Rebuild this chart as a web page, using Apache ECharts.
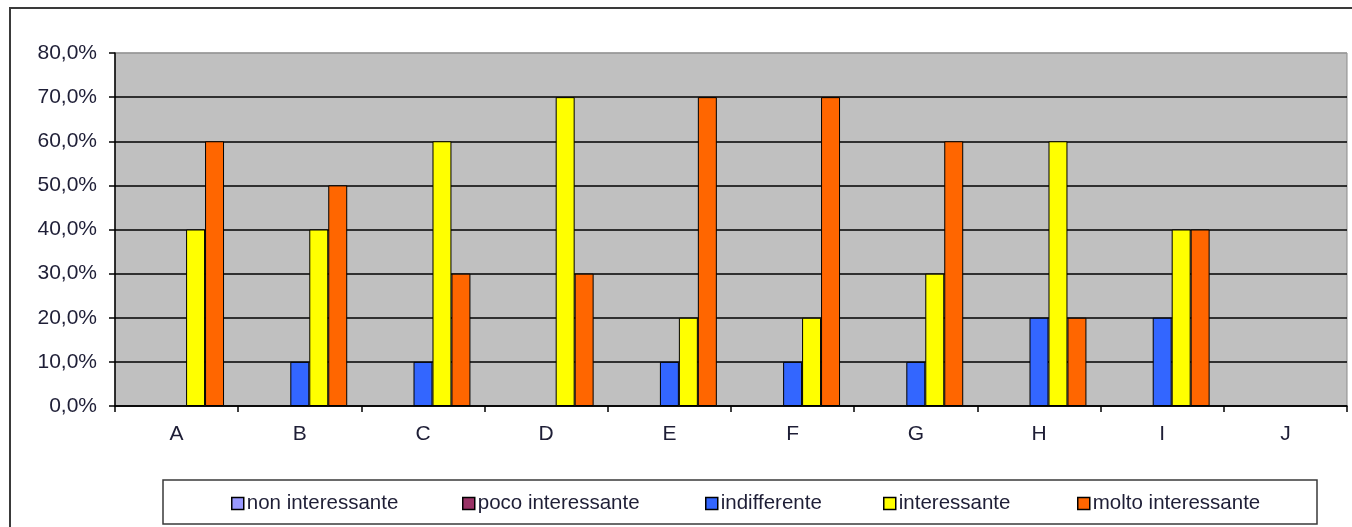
<!DOCTYPE html>
<html>
<head>
<meta charset="utf-8">
<script src="https://cdn.jsdelivr.net/npm/echarts@6/dist/echarts.min.js"></script>
<style>
  html, body { margin: 0; padding: 0; background: #fff; }
  #chart { width: 1352px; height: 527px; }
</style>
</head>
<body>
<div id="chart"></div>
<script>
// Categories and survey answer shares (percent of responses)
const categories = ['A', 'B', 'C', 'D', 'E', 'F', 'G', 'H', 'I', 'J'];
const seriesNames = ['non interessante', 'poco interessante', 'indifferente', 'interessante', 'molto interessante'];
const nonInteressante   = [null, null, null, null, null, null, null, null, null, null];
const pocoInteressante  = [null, null, null, null, null, null, null, null, null, null];
const indifferente      = [null, 10, 10, null, 10, 10, 10, 20, 20, null];
const interessante      = [40, 40, 60, 70, 20, 20, 30, 60, 40, null];
const moltoInteressante = [60, 50, 30, 30, 70, 70, 60, 20, 40, null];
const yTicks = [0, 10, 20, 30, 40, 50, 60, 70, 80];

const seriesColors = ['#9999FF', '#993366', '#3366FF', '#FFFF00', '#FF6600'];
const seriesData = [nonInteressante, pocoInteressante, indifferente, interessante, moltoInteressante];
// left edge of each legend entry
const legendLefts = [231, 462, 705, 883, 1077];

const FONT = "'Liberation Sans', Arial, sans-serif";
const TEXT_COLOR = '#1e1e36';

const chart = echarts.init(document.getElementById('chart'), null, { renderer: 'canvas' });

const fmt = v => v.toFixed(1).replace('.', ',') + '%';

chart.setOption({
  animation: false,
  backgroundColor: '#ffffff',
  graphic: [
    // outer chart frame
    { type: 'rect', z: -10, shape: { x: 10, y: 8, width: 1400, height: 600 },
      style: { fill: 'none', stroke: '#3a3a3a', lineWidth: 2 } },
    // legend frame
    { type: 'rect', z: -5, shape: { x: 163, y: 480, width: 1154, height: 44 },
      style: { fill: '#ffffff', stroke: '#3a3a3a', lineWidth: 1.5 } }
  ],
  grid: {
    left: 115, right: 5, top: 53, bottom: 121,
    show: true, backgroundColor: '#C0C0C0', borderColor: '#8a8a8a', borderWidth: 1
  },
  legend: seriesNames.map((name, i) => ({
    data: [name],
    left: legendLefts[i],
    top: 493,
    icon: 'rect',
    itemWidth: 12,
    itemHeight: 12,
    itemGap: 0,
    padding: 0,
    itemStyle: { borderColor: '#000', borderWidth: 1.5 },
    textStyle: { fontFamily: FONT, fontSize: 20.5, color: TEXT_COLOR, padding: [0, 0, 0, -2] }
  })),
  xAxis: {
    type: 'category',
    data: categories,
    axisLine: { lineStyle: { color: '#000', width: 1.5 } },
    axisTick: { show: true, length: 6, lineStyle: { color: '#000', width: 1.5 } },
    axisLabel: { fontFamily: FONT, fontSize: 21, color: TEXT_COLOR, margin: 18 },
    splitLine: { show: false }
  },
  yAxis: {
    type: 'value',
    min: yTicks[0],
    max: yTicks[yTicks.length - 1],
    interval: 10,
    axisLine: { show: true, lineStyle: { color: '#000', width: 1.5 } },
    axisTick: { show: true, length: 6, lineStyle: { color: '#000', width: 1.5 } },
    axisLabel: { fontFamily: FONT, fontSize: 21, color: TEXT_COLOR, margin: 18, formatter: fmt },
    splitLine: {
      show: true,
      lineStyle: { color: ['#000', '#000', '#000', '#000', '#000', '#000', '#000', '#000', '#9a9a9a'], width: 1.5 }
    }
  },
  series: seriesNames.map((name, i) => ({
    name: name,
    type: 'bar',
    data: seriesData[i],
    barGap: '0%',
    barCategoryGap: '23%',
    itemStyle: { color: seriesColors[i], borderColor: '#000', borderWidth: 1 }
  }))
});
</script>
</body>
</html>
